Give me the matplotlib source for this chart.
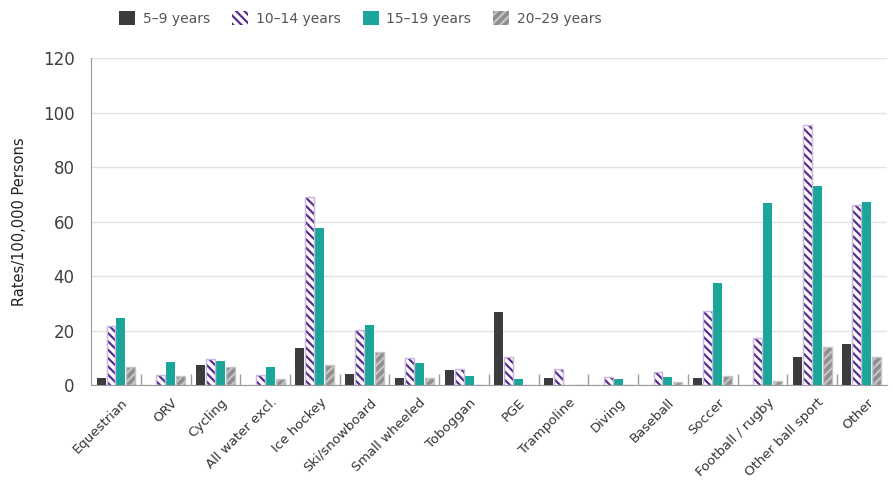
import matplotlib
matplotlib.use("Agg")
import matplotlib.pyplot as plt
import numpy as np

plt.rcParams['font.family'] = ['DejaVu Sans']
plt.rcParams['hatch.linewidth'] = 1.6

# ---- data ----
sports = ['Equestrian', 'ORV', 'Cycling', 'All water excl.', 'Ice hockey',
          'Ski/snowboard', 'Small wheeled', 'Toboggan', 'PGE', 'Trampoline',
          'Diving', 'Baseball', 'Soccer', 'Football / rugby',
          'Other ball sport', 'Other']
age_groups = ['5\u20139 years', '10\u201314 years', '15\u201319 years', '20\u201329 years']

rate_5_9 = [2.6, 0, 7.5, 0, 13.7, 4.2, 2.7, 5.6, 26.8, 2.6, 0, 0, 2.6, 0, 10.3, 15.2]
rate_10_14 = [21.5, 3.7, 9.5, 3.7, 69, 20.3, 9.9, 5.9, 10.3, 6.0, 3.0, 4.8, 27.3, 17.3, 95.5, 66.2]
rate_15_19 = [24.5, 8.4, 8.8, 6.6, 57.5, 22, 8.2, 3.4, 2.2, 0, 2.2, 3.0, 37.3, 66.8, 73, 67]
rate_20_29 = [6.6, 3.3, 6.6, 2.2, 7.5, 12.1, 2.7, 0, 0, 0, 0, 1.0, 3.3, 1.5, 14.0, 10.3]

# ---- figure ----
fig = plt.figure(figsize=(8.93, 4.84), dpi=100)
ax = fig.add_axes([0.102, 0.2045, 0.891, 0.6755])

x = np.arange(len(sports))
w = 0.18
step = 0.2

dark = '#3c3c3e'
purple = '#5b2b8f'
teal = '#1aa69a'
grey = '#8e8e8e'

b1 = ax.bar(x - 1.5 * step, rate_5_9, w, color=dark, zorder=3, label=age_groups[0])
b2 = ax.bar(x - 0.5 * step, rate_10_14, w, facecolor='white', edgecolor=purple,
            hatch='\\\\\\\\', linewidth=0, zorder=3, label=age_groups[1])
ax.bar(x - 0.5 * step, rate_10_14, w, facecolor='none', edgecolor='#c8b6de',
       linewidth=1.0, zorder=4)
b3 = ax.bar(x + 0.5 * step, rate_15_19, w, color=teal, zorder=3, label=age_groups[2])
b4 = ax.bar(x + 1.5 * step, rate_20_29, w, facecolor=grey, edgecolor='#c4c4c4',
            hatch='////', linewidth=0, zorder=3, label=age_groups[3])
ax.bar(x + 1.5 * step, rate_20_29, w, facecolor='none', edgecolor='#c4c4c4',
       linewidth=1.0, zorder=4)

ax.set_xlim(-0.5, len(sports) - 0.5)
ax.set_ylim(0, 120)
ax.set_yticks(np.arange(0, 121, 20))
ax.yaxis.grid(True, color='#e3e3e3', linewidth=1.0, zorder=0)
ax.set_axisbelow(True)
ax.tick_params(axis='y', length=0, labelsize=12, labelcolor='#404040', pad=12)

# category boundaries as small inward ticks
ax.set_xticks(np.arange(0.5, len(sports) - 0.5, 1.0))
ax.set_xticklabels([])
ax.tick_params(axis='x', direction='in', length=8, color='#9a9a9a', width=1)
for i, name in enumerate(sports):
    ax.text(i + 0.1, -4, name, rotation=45, ha='right', va='top',
            rotation_mode='anchor', fontsize=9.5, color='#333333',
            transform=ax.transData)

for side in ['top', 'right']:
    ax.spines[side].set_visible(False)
ax.spines['left'].set_color('#9a9a9a')
ax.spines['bottom'].set_color('#9a9a9a')

ax.set_ylabel('Rates/100,000 Persons', fontsize=10.5, color='#222222', labelpad=11)

fig.legend(handles=[b1, b2, b3, b4], labels=age_groups, loc='upper left',
           bbox_to_anchor=(0.1194, 1.003), ncol=4, frameon=False, fontsize=10,
           handlelength=1.15, handleheight=1.2, columnspacing=1.6,
           handletextpad=0.55, labelcolor='#555555')

fig.savefig('out.png', dpi=100, facecolor='white')
